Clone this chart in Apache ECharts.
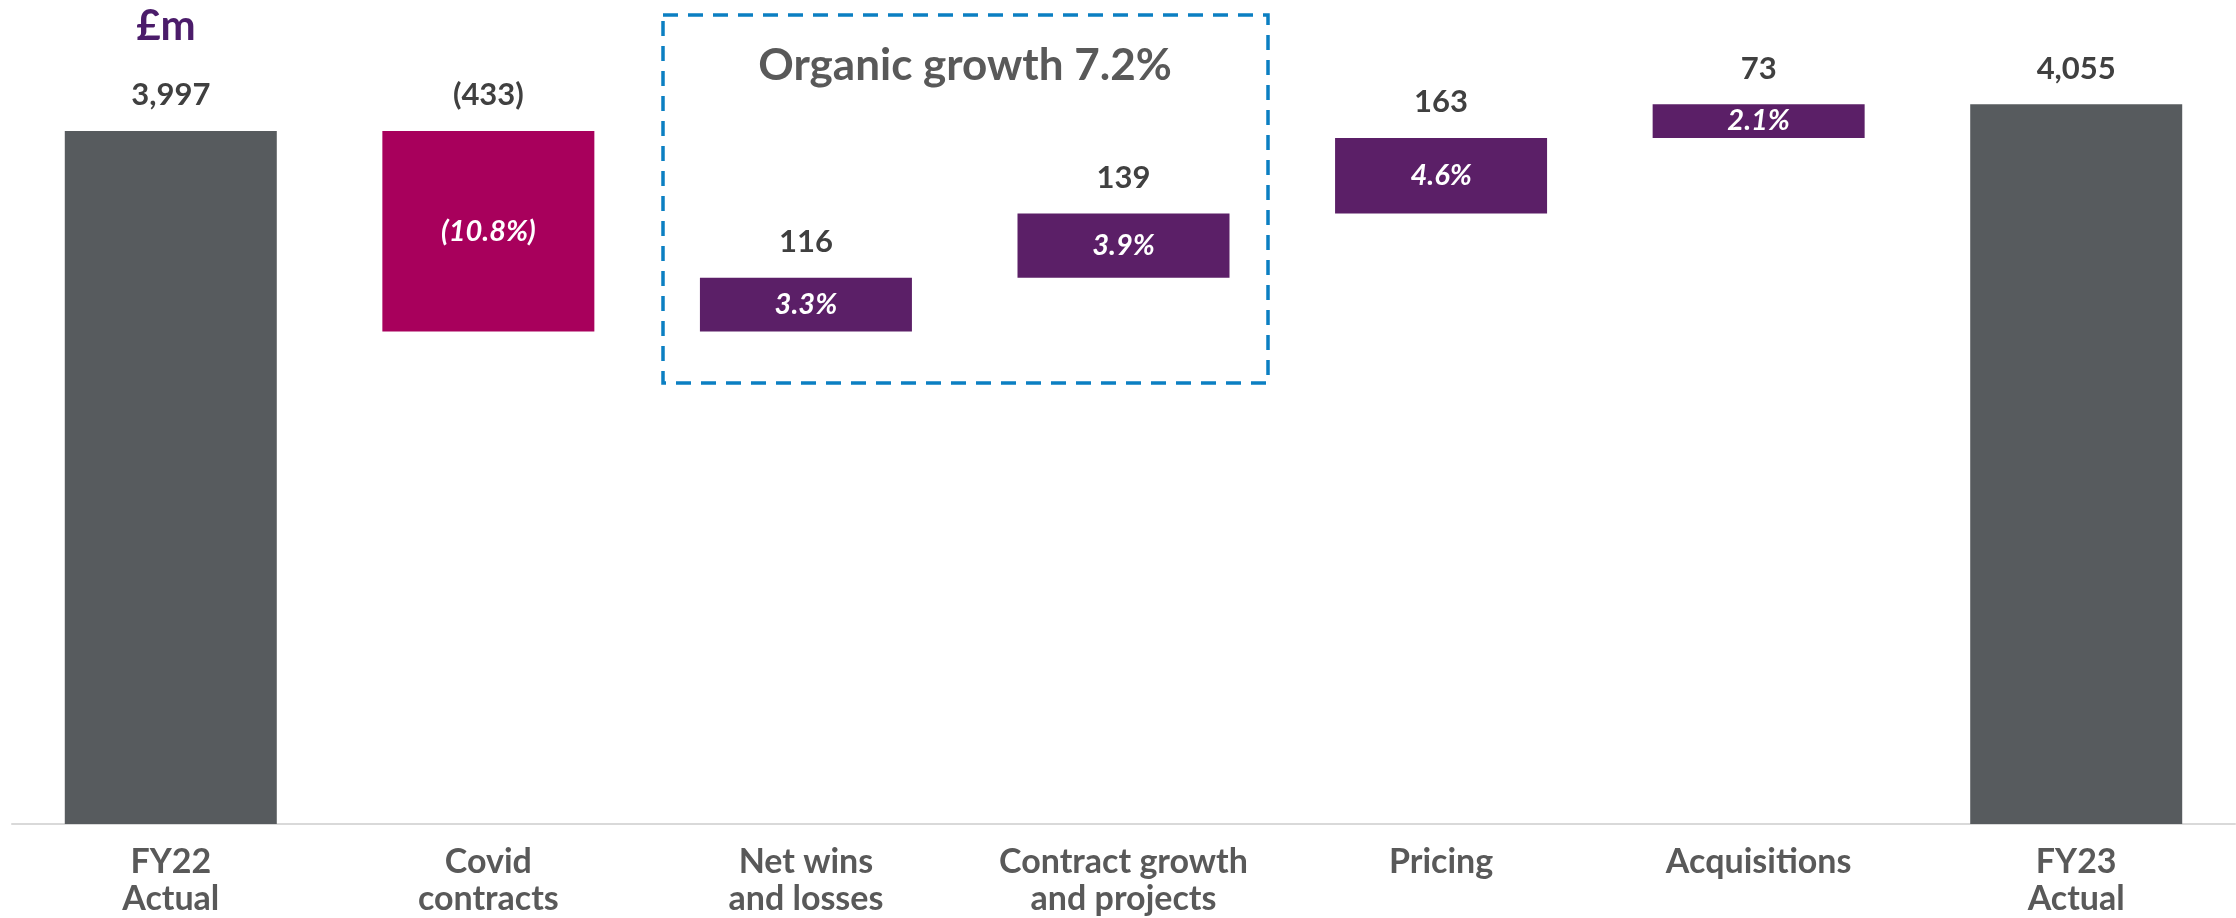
<!DOCTYPE html>
<html>
<head>
<meta charset="utf-8">
<script src="https://cdn.jsdelivr.net/npm/echarts@6/dist/echarts.min.js"></script>
<style>
  html, body { margin: 0; padding: 0; background: #fff; }
  #main { width: 2236px; height: 918px; }
</style>
</head>
<body>
<div id="main"></div>
<script>
var categories = ['FY22\nActual', 'Covid\ncontracts', 'Net wins\nand losses', 'Contract growth\nand projects', 'Pricing', 'Acquisitions', 'FY23\nActual'];
var startTotal = 3997;
var endTotal = 4055;
var changes = [-433, 116, 139, 163, 73];
var changePcts = [-10.8, 3.3, 3.9, 4.6, 2.1];
var changeColors = ['#A8005C', '#5B1F67', '#5B1F67', '#5B1F67', '#5B1F67'];

var FONT = 'Lato, "Open Sans", sans-serif';
var GREY_BAR = '#575B5E';

function fmtValue(v) {
    var s = Math.abs(v).toLocaleString('en-GB');
    return v < 0 ? '(' + s + ')' : s;
}
function fmtPct(p) {
    var s = Math.abs(p).toFixed(1) + '%';
    return p < 0 ? '(' + s + ')' : s;
}

// running totals -> invisible base under each change bar
var totals = [startTotal, '-', '-', '-', '-', '-', endTotal];
var base = ['-'];
var change = ['-'];
var running = startTotal;
for (var i = 0; i < changes.length; i++) {
    var next = running + changes[i];
    base.push(Math.min(running, next));
    change.push({value: Math.abs(changes[i]), itemStyle: {color: changeColors[i]}});
    running = next;
}
base.push('-');
change.push('-');

var myChart = echarts.init(document.getElementById('main'));
var option = {
    backgroundColor: '#fff',
    animation: false,
    grid: {left: 12, right: 1, top: 37, bottom: 93, containLabel: false},
    xAxis: {
        type: 'category',
        data: categories,
        axisLine: {lineStyle: {color: '#D9D9D9', width: 2}},
        axisTick: {show: false},
        axisLabel: {
            interval: 0,
            margin: 20,
            color: '#595959',
            fontFamily: FONT,
            fontWeight: 'bold',
            fontSize: 34,
            lineHeight: 37
        }
    },
    yAxis: {
        type: 'value',
        min: 2500,
        max: 4200,
        show: false,
        splitLine: {show: false}
    },
    graphic: [
        {
            type: 'text', x: 166, y: 26,
            style: {text: '£m', fill: '#4B1C6A', font: 'bold 42px ' + FONT, align: 'center', verticalAlign: 'middle'}
        },
        {
            type: 'rect', shape: {x: 663, y: 15, width: 605, height: 368},
            style: {fill: 'none', stroke: '#0B7FC2', lineWidth: 3.5, lineDash: [15, 10]}
        },
        {
            type: 'text', x: 965, y: 66,
            style: {
                text: 'Organic growth 7.2%', fill: '#595959',
                font: 'bold 44px ' + FONT, align: 'center', verticalAlign: 'middle'
            }
        }
    ],
    series: [
        {
            name: 'totals',
            type: 'bar',
            data: totals,
            barWidth: 212,
            barGap: '-100%',
            clip: true,
            itemStyle: {color: GREY_BAR},
            label: {
                show: true, position: 'top', distance: 20,
                color: '#404040', fontFamily: FONT, fontWeight: 'bold', fontSize: 31,
                formatter: function (p) { return fmtValue(p.value); }
            }
        },
        {
            name: 'base',
            type: 'bar',
            stack: 'w',
            data: base,
            barWidth: 212,
            clip: true,
            itemStyle: {color: 'transparent'},
            silent: true
        },
        {
            name: 'change',
            type: 'bar',
            stack: 'w',
            data: change,
            barWidth: 212,
            clip: true,
            label: {
                show: true, position: 'inside',
                color: '#fff', fontFamily: FONT, fontWeight: 'bold', fontStyle: 'italic', fontSize: 29,
                formatter: function (p) { return fmtPct(changePcts[p.dataIndex - 1]); }
            }
        },
        {
            name: 'base2',
            type: 'bar',
            stack: 'v',
            data: base,
            barWidth: 212,
            clip: true,
            itemStyle: {color: 'transparent'},
            silent: true
        },
        {
            name: 'changeLabels',
            type: 'bar',
            stack: 'v',
            data: change.map(function (d) { return d === '-' ? '-' : d.value; }),
            barWidth: 212,
            clip: true,
            itemStyle: {color: 'transparent'},
            label: {
                show: true, position: 'top', distance: 20,
                color: '#404040', fontFamily: FONT, fontWeight: 'bold', fontSize: 31,
                formatter: function (p) { return fmtValue(changes[p.dataIndex - 1]); }
            }
        }
    ]
};
myChart.setOption(option);
</script>
</body>
</html>
